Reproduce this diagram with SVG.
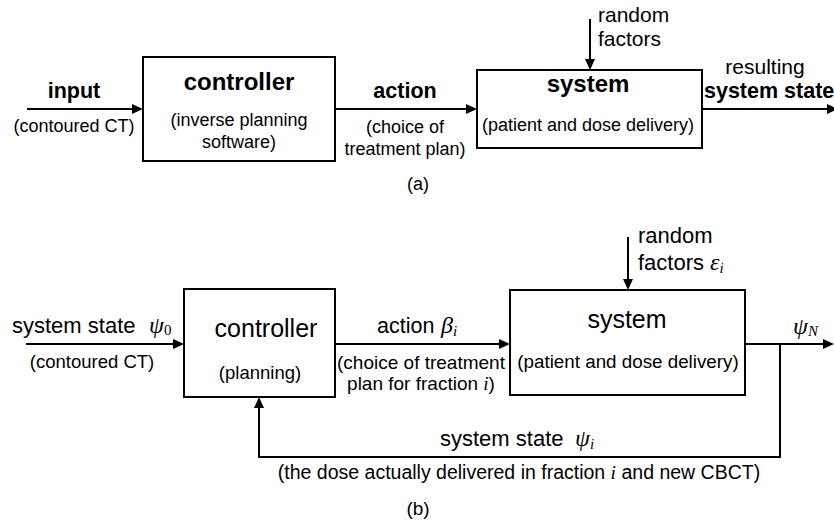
<svg xmlns="http://www.w3.org/2000/svg" width="834" height="523" viewBox="0 0 834 523">
<style>
.box{fill:#fff;stroke:#000;stroke-width:2}
.ln{fill:none;stroke:#000;stroke-width:2;marker-end:url(#ah)}
text{font-family:"Liberation Sans",Arial,Helvetica,sans-serif;fill:#000}
.b{font-weight:bold}
.gr{font-family:"Liberation Serif","Times New Roman",serif;font-style:italic}
.up{font-family:"Liberation Serif","Times New Roman",serif;font-style:normal}
.m{text-anchor:middle}
</style>
<defs>
<marker id="ah" markerWidth="11" markerHeight="10" refX="7" refY="5" orient="auto" markerUnits="userSpaceOnUse">
<path d="M0,0 L11,5 L0,10 z" fill="#000"/>
</marker>
</defs>

<!-- (a) -->
<g id="connectors-a">
<line class="ln" x1="27" y1="109" x2="139" y2="109"/>
<line class="ln" x1="335" y1="109" x2="473" y2="109"/>
<line class="ln" x1="590" y1="19" x2="590" y2="66"/>
<line class="ln" x1="702" y1="109" x2="834" y2="109"/>
</g>
<g id="controller-a">
<rect class="box" x="143" y="57" width="192" height="104"/>
<text class="b m" x="239" y="90" font-size="24">controller</text>
<text class="m" x="239" y="126" font-size="18">(inverse planning</text>
<text class="m" x="239" y="148" font-size="18">software)</text>
</g>
<g id="system-a">
<rect class="box" x="477" y="70" width="225" height="78"/>
<text class="b m" x="588" y="92" font-size="24">system</text>
<text class="m" x="588" y="131" font-size="18">(patient and dose delivery)</text>
</g>
<g id="labels-a">
<text class="b m" x="74" y="98" font-size="21.5">input</text>
<text class="m" x="74" y="132" font-size="18">(contoured CT)</text>
<text class="b m" x="405" y="98" font-size="21.5">action</text>
<text class="m" x="405" y="133" font-size="18">(choice of</text>
<text class="m" x="405" y="155" font-size="18">treatment plan)</text>
<text x="598" y="22" font-size="21">random</text>
<text x="598" y="46" font-size="21">factors</text>
<text class="m" x="765" y="74" font-size="21">resulting</text>
<text class="b" x="704" y="98" font-size="21.5">system state</text>
<text class="m" x="418" y="190" font-size="18">(a)</text>
</g>

<!-- (b) -->
<g id="connectors-b">
<line class="ln" x1="26" y1="344" x2="180" y2="344"/>
<line class="ln" x1="335" y1="344" x2="506" y2="344"/>
<line class="ln" x1="628" y1="237" x2="628" y2="286"/>
<line class="ln" x1="745" y1="344" x2="830" y2="344"/>
<path class="ln" d="M780,344 V457 H259 V401"/>
</g>
<g id="controller-b">
<rect class="box" x="184" y="289" width="151" height="108"/>
<text class="m" x="266" y="337" font-size="25">controller</text>
<text class="m" x="260" y="379" font-size="18.5">(planning)</text>
</g>
<g id="system-b">
<rect class="box" x="510" y="290" width="235" height="105"/>
<text class="m" x="627" y="328" font-size="25">system</text>
<text class="m" x="628" y="368" font-size="18.8">(patient and dose delivery)</text>
</g>
<g id="labels-b">
<text x="12" y="333" font-size="22">system state</text>
<text x="149" y="333" font-size="24"><tspan class="gr">ψ</tspan><tspan class="up" font-size="15" dy="2">0</tspan></text>
<text class="m" x="92" y="368" font-size="18.5">(contoured CT)</text>
<text x="377" y="333" font-size="21.5">action</text>
<text x="441" y="333" font-size="24"><tspan class="gr">β</tspan><tspan class="gr" font-size="15" dy="3">i</tspan></text>
<text class="m" x="421" y="369" font-size="19">(choice of treatment</text>
<text class="m" x="421" y="390" font-size="19">plan for fraction <tspan class="gr">i</tspan>)</text>
<text x="638" y="243" font-size="22">random</text>
<text x="638" y="270" font-size="22">factors</text>
<text x="710" y="270" font-size="24"><tspan class="gr">ε</tspan><tspan class="gr" font-size="15" dy="3">i</tspan></text>
<text x="793" y="334" font-size="24"><tspan class="gr">ψ</tspan><tspan class="gr" font-size="15" dy="2">N</tspan></text>
<text x="440" y="446" font-size="22">system state</text>
<text x="575" y="446" font-size="24"><tspan class="gr">ψ</tspan><tspan class="gr" font-size="15" dy="3">i</tspan></text>
<text class="m" x="519" y="479" font-size="19.5">(the dose actually delivered in fraction <tspan class="gr">i</tspan> and new CBCT)</text>
<text class="m" x="418" y="515" font-size="19">(b)</text>
</g>
</svg>
